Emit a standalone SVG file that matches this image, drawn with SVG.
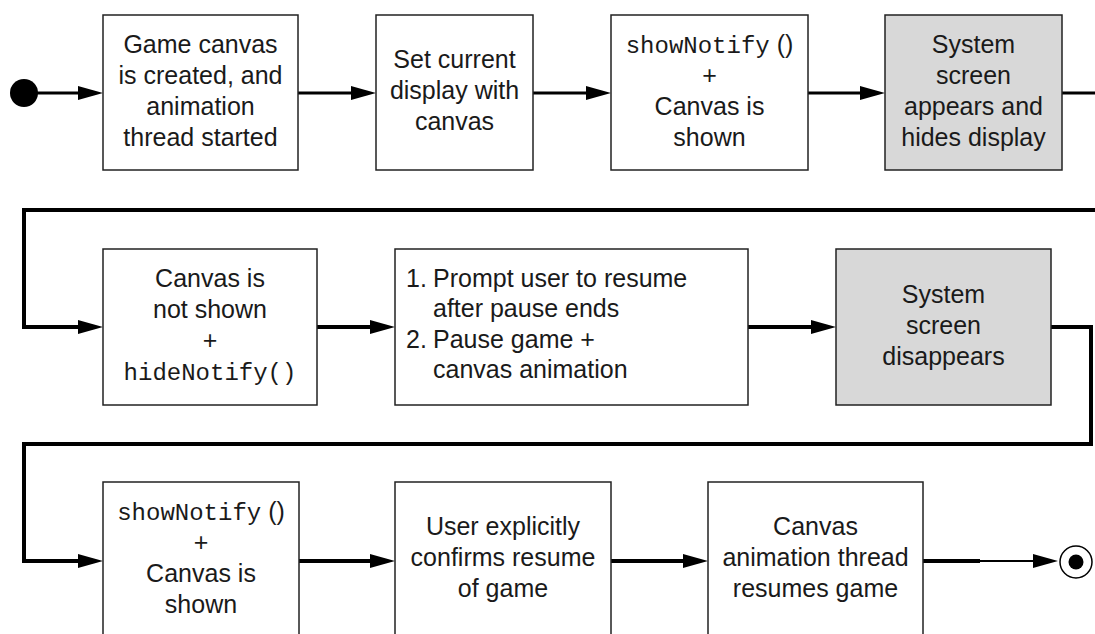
<svg xmlns="http://www.w3.org/2000/svg" width="1095" height="634" viewBox="0 0 1095 634">
<style>
.box{fill:#fff;stroke:#222;stroke-width:1.5}
.sys{fill:#d8d8d8;stroke:#222;stroke-width:1.5}
.t{font-family:"Liberation Sans",Arial,sans-serif;font-size:25px;fill:#1a1a1a;text-anchor:middle}
.l{font-family:"Liberation Sans",Arial,sans-serif;font-size:25px;fill:#1a1a1a}
.m{font-family:"Liberation Mono","Courier New",monospace;font-size:24px}
.c{fill:none;stroke:#000;stroke-width:4}
.c3{fill:none;stroke:#000;stroke-width:3}
</style>
<defs>
<marker id="arr" markerUnits="userSpaceOnUse" markerWidth="26" markerHeight="16" refX="1" refY="8" orient="auto">
<path d="M0,1 L25,8 L0,15 Z" fill="#000"/>
</marker>
</defs>
<g id="connectors">
<path class="c3" d="M24,93 H79" marker-end="url(#arr)"/>
<path class="c3" d="M298,93 H352" marker-end="url(#arr)"/>
<path class="c3" d="M533,93 H587" marker-end="url(#arr)"/>
<path class="c3" d="M808,93 H861" marker-end="url(#arr)"/>
<path class="c3" d="M1062,93 H1095"/>
<path class="c" d="M1095,210 H24 V327 H79" marker-end="url(#arr)"/>
<path class="c" d="M317,327 H371" marker-end="url(#arr)"/>
<path class="c" d="M748,327 H812" marker-end="url(#arr)"/>
<path class="c" d="M1051,327 H1091 V444 H24 V561 H79" marker-end="url(#arr)"/>
<path class="c" d="M299,561 H371" marker-end="url(#arr)"/>
<path class="c" d="M611,561 H684" marker-end="url(#arr)"/>
<path class="c" d="M923,561 H980"/>
<path fill="none" stroke="#000" stroke-width="2" d="M978,561 H1034" marker-end="url(#arr)"/>
</g>
<g id="start"><circle cx="24" cy="93" r="14" fill="#000"/></g>
<g id="n1">
<rect class="box" x="103" y="15" width="195" height="155"/>
<text class="t" x="200.5" y="53">Game canvas</text>
<text class="t" x="200.5" y="84">is created, and</text>
<text class="t" x="200.5" y="115">animation</text>
<text class="t" x="200.5" y="146">thread started</text>
</g>
<g id="n2">
<rect class="box" x="376" y="15" width="157" height="155"/>
<text class="t" x="454.5" y="68">Set current</text>
<text class="t" x="454.5" y="99">display with</text>
<text class="t" x="454.5" y="130">canvas</text>
</g>
<g id="n3">
<rect class="box" x="611" y="15" width="197" height="155"/>
<text class="t" x="709.5" y="53"><tspan class="m">showNotify</tspan> ()</text>
<text class="t" x="709.5" y="84">+</text>
<text class="t" x="709.5" y="115">Canvas is</text>
<text class="t" x="709.5" y="146">shown</text>
</g>
<g id="n4">
<rect class="sys" x="885" y="15" width="177" height="155"/>
<text class="t" x="973.5" y="53">System</text>
<text class="t" x="973.5" y="84">screen</text>
<text class="t" x="973.5" y="115">appears and</text>
<text class="t" x="973.5" y="146">hides display</text>
</g>
<g id="n5">
<rect class="box" x="103" y="249" width="214" height="156"/>
<text class="t" x="210" y="287">Canvas is</text>
<text class="t" x="210" y="318">not shown</text>
<text class="t" x="210" y="349">+</text>
<text class="t" x="210" y="380"><tspan class="m">hideNotify()</tspan></text>
</g>
<g id="n6">
<rect class="box" x="395" y="249" width="353" height="156"/>
<text class="l" x="406" y="287">1.</text>
<text class="l" x="433" y="287">Prompt user to resume</text>
<text class="l" x="433" y="317">after pause ends</text>
<text class="l" x="406" y="348">2.</text>
<text class="l" x="433" y="348">Pause game +</text>
<text class="l" x="433" y="378">canvas animation</text>
</g>
<g id="n7">
<rect class="sys" x="836" y="249" width="215" height="156"/>
<text class="t" x="943.5" y="303">System</text>
<text class="t" x="943.5" y="334">screen</text>
<text class="t" x="943.5" y="365">disappears</text>
</g>
<g id="n8">
<rect class="box" x="103" y="482" width="196" height="160"/>
<text class="t" x="201" y="520"><tspan class="m">showNotify</tspan> ()</text>
<text class="t" x="201" y="551">+</text>
<text class="t" x="201" y="582">Canvas is</text>
<text class="t" x="201" y="613">shown</text>
</g>
<g id="n9">
<rect class="box" x="395" y="482" width="216" height="160"/>
<text class="t" x="503" y="535">User explicitly</text>
<text class="t" x="503" y="566">confirms resume</text>
<text class="t" x="503" y="597">of game</text>
</g>
<g id="n10">
<rect class="box" x="708" y="482" width="215" height="160"/>
<text class="t" x="815.5" y="535">Canvas</text>
<text class="t" x="815.5" y="566">animation thread</text>
<text class="t" x="815.5" y="597">resumes game</text>
</g>
<g id="end">
<circle cx="1076" cy="562" r="16" fill="#fff" stroke="#000" stroke-width="1.5"/>
<circle cx="1076" cy="562" r="7.5" fill="#000"/>
</g>
</svg>
